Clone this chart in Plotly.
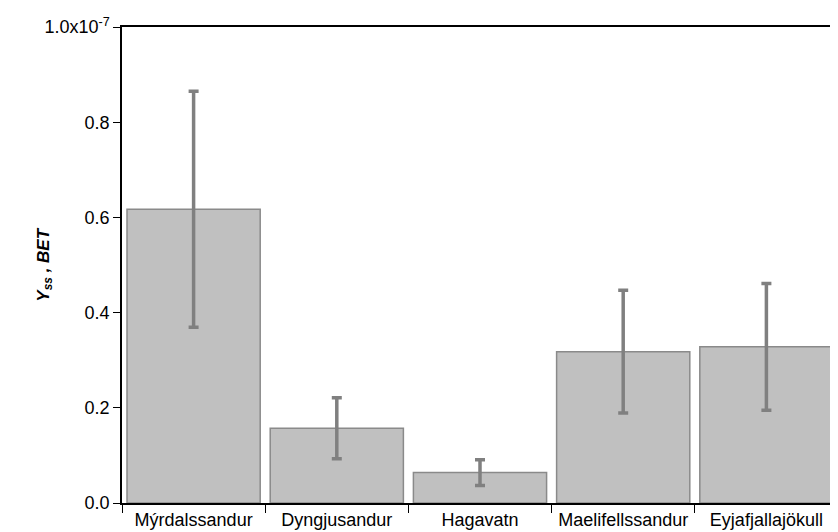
import plotly.graph_objects as go

sites = ["Mýrdalssandur", "Dyngjusandur", "Hagavatn", "Maelifellssandur", "Eyjafjallajökull"]
yss = [0.617e-7, 0.157e-7, 0.064e-7, 0.318e-7, 0.328e-7]
yss_err = [0.248e-7, 0.064e-7, 0.027e-7, 0.129e-7, 0.133e-7]

tick_vals = [0, 0.2e-7, 0.4e-7, 0.6e-7, 0.8e-7, 1.0e-7]
tick_text = ["0.0", "0.2", "0.4", "0.6", "0.8", "1.0x10<sup>-7</sup>"]

fig = go.Figure()
fig.add_trace(go.Bar(
    x=sites, y=yss,
    marker=dict(color="#c0c0c0", line=dict(color="#8a8a8a", width=1.5)),
    error_y=dict(type="data", array=yss_err, color="#808080", thickness=3.5, width=5),
    width=0.93,
))
# page body has an 8px margin, so the figure is shrunk/shifted to compensate
fig.update_layout(
    width=830, height=524,
    margin=dict(l=114, r=0, t=19, b=29),
    plot_bgcolor="white", paper_bgcolor="white",
    font=dict(family="Liberation Sans, Arial", size=18, color="black"),
    showlegend=False,
)
fig.update_xaxes(
    automargin=False, tickangle=0,
    showline=True, linecolor="black", linewidth=1.5, mirror=True,
    ticks="outside", tickson="boundaries", ticklen=8, tickcolor="black",
    showgrid=False, tickfont=dict(size=18),
)
fig.update_yaxes(
    automargin=False,
    range=[0, 1.0e-7], tickvals=tick_vals, ticktext=tick_text,
    showline=True, linecolor="black", linewidth=1.5,
    ticks="outside", ticklen=7, tickcolor="black", showgrid=False, zeroline=False,
    tickfont=dict(size=18),
)
# y title placed by hand: the wide top tick label would push an axis title too far left
fig.add_annotation(
    text="<b><i>Y<sub>ss</sub> , BET</i></b>", textangle=-90,
    xref="paper", yref="paper", x=-0.108, y=0.5, xanchor="center", yanchor="middle",
    showarrow=False, font=dict(size=17),
)
fig.write_html("out.html")
